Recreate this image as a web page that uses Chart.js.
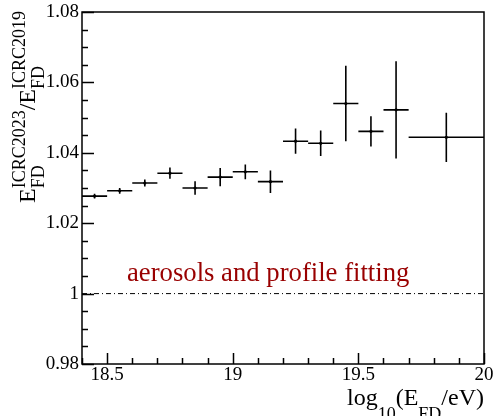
<!DOCTYPE html>
<html>
<head>
<meta charset="utf-8">
<script src="https://cdn.jsdelivr.net/npm/chart.js@4"></script>
<style>
  html, body { margin: 0; padding: 0; background: #fff; }
  #wrap { width: 494px; height: 416px; }
</style>
</head>
<body>
<div id="wrap"><canvas id="myChart" width="494" height="416"></canvas></div>
<script>
// bins in log10(E_FD/eV)
const binLo = [18.4, 18.5, 18.6, 18.7, 18.8, 18.9, 19.0, 19.1, 19.2, 19.3, 19.4, 19.5, 19.6, 19.7];
const binHi = [18.5, 18.6, 18.7, 18.8, 18.9, 19.0, 19.1, 19.2, 19.3, 19.4, 19.5, 19.6, 19.7, 20.0];
// energy ratio ICRC2023 / ICRC2019 and its error
const ratio = [1.0277, 1.0292, 1.0314, 1.0342, 1.0300, 1.0331, 1.0346, 1.0318, 1.0433, 1.0427, 1.0540, 1.0461, 1.0522, 1.0444];
const ratioErr = [0.0007, 0.0008, 0.0010, 0.0016, 0.0019, 0.0026, 0.0021, 0.0032, 0.0036, 0.0036, 0.0107, 0.0043, 0.0138, 0.0070];

const xTicks = [18.5, 19, 19.5, 20];
const xTickLabels = ['18.5', '19', '19.5', '20'];
const yTicks = [0.98, 1, 1.02, 1.04, 1.06, 1.08];
const yTickLabels = ['0.98', '1', '1.02', '1.04', '1.06', '1.08'];

const serif = '"Liberation Serif", "DejaVu Serif", serif';

// error bars as line segments separated by gaps
const hBars = [];
const vBars = [];
const centers = [];
binLo.forEach((lo, i) => {
  const hi = binHi[i];
  const xc = (lo + hi) / 2;
  const y = ratio[i];
  const e = ratioErr[i];
  hBars.push({ x: lo, y: y }, { x: hi, y: y }, { x: hi, y: null });
  vBars.push({ x: xc, y: y - e }, { x: xc, y: y + e }, { x: xc, y: null });
  centers.push({ x: xc, y: y });
});

// draw text groups (stacked sub/superscripts) starting at x0 on baseline y0
function groupWidths(ctx, groups) {
  return groups.map((g) =>
    Math.max(...g.map((p) => {
      ctx.font = `${p.size}px ${serif}`;
      return ctx.measureText(p.text).width;
    }))
  );
}
function drawGroups(ctx, groups, x0, y0) {
  const widths = groupWidths(ctx, groups);
  let x = x0;
  groups.forEach((g, i) => {
    g.forEach((p) => {
      ctx.font = `${p.size}px ${serif}`;
      ctx.fillText(p.text, x, y0 + p.shift);
    });
    x += widths[i];
  });
}

const xTitle = [
  [{ text: 'log', size: 24, shift: 0 }],
  [{ text: '10', size: 18, shift: 15 }],
  [{ text: '(E', size: 24, shift: 0 }],
  [{ text: 'FD', size: 18, shift: 15 }],
  [{ text: '/eV)', size: 24, shift: 0 }],
];
const yTitle = [
  [{ text: 'E', size: 24, shift: 0 }],
  [{ text: 'ICRC2023', size: 18, shift: -10 }, { text: 'FD', size: 18, shift: 9 }],
  [{ text: '/E', size: 24, shift: 0 }],
  [{ text: 'ICRC2019', size: 18, shift: -10 }, { text: 'FD', size: 18, shift: 9 }],
];

const framePlugin = {
  id: 'frame',
  afterDatasetsDraw(chart) {
    const { ctx, chartArea: a, scales } = chart;
    const xs = scales.x;
    const ys = scales.y;
    ctx.save();
    ctx.strokeStyle = '#000';
    ctx.lineWidth = 1.5;
    ctx.strokeRect(a.left, a.top, a.right - a.left, a.bottom - a.top);

    // y ticks, inside the frame
    ctx.beginPath();
    for (let k = 0; k <= 20; k++) {
      const v = 0.98 + k * 0.005;
      const py = Math.round(ys.getPixelForValue(v)) + 0.5;
      const len = k % 4 === 0 ? 12 : 6;
      ctx.moveTo(a.left, py);
      ctx.lineTo(a.left + len, py);
    }
    // x ticks
    for (let k = 0; k <= 16; k++) {
      const v = 18.4 + k * 0.1;
      const px = Math.round(xs.getPixelForValue(v)) + 0.5;
      const len = k % 5 === 1 ? 11 : 6;
      ctx.moveTo(px, a.bottom);
      ctx.lineTo(px, a.bottom - len);
    }
    ctx.stroke();

    // annotation
    ctx.fillStyle = '#990000';
    ctx.font = `26.7px ${serif}`;
    ctx.textBaseline = 'alphabetic';
    ctx.textAlign = 'left';
    ctx.fillText('aerosols and profile fitting', 127, 281);

    // axis titles
    ctx.fillStyle = '#000';
    const wx = groupWidths(ctx, xTitle).reduce((p, c) => p + c, 0);
    drawGroups(ctx, xTitle, a.right - wx, 405);

    ctx.translate(35, 203);
    ctx.rotate(-Math.PI / 2);
    drawGroups(ctx, yTitle, 0, 0);
    ctx.restore();
  },
};

const ctx = document.getElementById('myChart').getContext('2d');
const myChart = new Chart(ctx, {
  type: 'line',
  data: {
    datasets: [
      {
        label: 'x errors',
        data: hBars,
        borderColor: '#000',
        borderWidth: 1.6,
        pointRadius: 0,
        spanGaps: false,
        tension: 0,
      },
      {
        label: 'y errors',
        data: vBars,
        borderColor: '#000',
        borderWidth: 1.6,
        pointRadius: 0,
        spanGaps: false,
        tension: 0,
      },
      {
        label: 'ratio',
        data: centers,
        showLine: false,
        pointRadius: 1.6,
        pointBackgroundColor: '#000',
        pointBorderWidth: 0,
      },
      {
        label: 'unity',
        data: [{ x: 18.4, y: 1 }, { x: 20, y: 1 }],
        borderColor: '#000',
        borderWidth: 1,
        borderDash: [5, 3, 1, 3],
        pointRadius: 0,
      },
    ],
  },
  options: {
    responsive: false,
    animation: false,
    devicePixelRatio: 1,
    layout: { padding: { left: 0, right: 10, top: 12, bottom: 0 } },
    plugins: {
      legend: { display: false },
      tooltip: { enabled: false },
    },
    scales: {
      x: {
        type: 'linear',
        min: 18.4,
        max: 20,
        grid: { display: false, drawTicks: false },
        border: { display: false },
        afterBuildTicks: (scale) => {
          scale.ticks = xTicks.map((v) => ({ value: v }));
        },
        afterFit: (scale) => {
          scale.height = 52;
          scale.paddingLeft = 0;
          scale.paddingRight = 0;
        },
        ticks: {
          color: '#000',
          font: { family: serif, size: 19 },
          padding: 0,
          maxRotation: 0,
          callback: (v, i) => xTickLabels[i],
        },
      },
      y: {
        type: 'linear',
        min: 0.98,
        max: 1.08,
        grid: { display: false, drawTicks: false },
        border: { display: false },
        afterBuildTicks: (scale) => {
          scale.ticks = yTicks.map((v) => ({ value: v }));
        },
        afterFit: (scale) => {
          scale.width = 82;
          scale.paddingTop = 0;
          scale.paddingBottom = 0;
        },
        ticks: {
          color: '#000',
          font: { family: serif, size: 19 },
          padding: 3,
          callback: (v, i) => yTickLabels[i],
        },
      },
    },
  },
  plugins: [framePlugin],
});
</script>
</body>
</html>
